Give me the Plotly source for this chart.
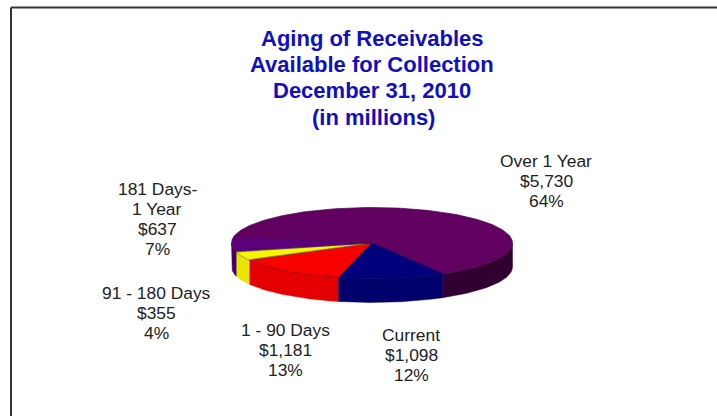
import numpy as np
import plotly.graph_objects as go

# Data, in drawing order going clockwise from the Current / 1-90 Days boundary
categories = ["1 - 90 Days", "91 - 180 Days", "181 Days - 1 Year", "Over 1 Year", "Current"]
amounts = [1181, 355, 637, 5730, 1098]
top_colors = ["#f80000", "#f6f600", "#5c007c", "#620062", "#00007c"]
side_colors = ["#e40000", "#e6e600", "#45005c", "#310031", "#00006c"]
edge_colors = ["#8a0000", "#77770a", "#4a0064", "#4e004e", "#000058"]

title_lines = ["Aging of Receivables", "Available for Collection", "December 31, 2010", "(in millions)"]
title_x = [372, 372, 372, 373]
title_y = [38, 64, 90, 117]

label_lines = [
    ["1 - 90 Days", "$1,181", "13%"],
    ["91 - 180 Days", "$355", "4%"],
    ["181 Days-", "1 Year", "$637", "7%"],
    ["Over 1 Year", "$5,730", "64%"],
    ["Current", "$1,098", "12%"],
]
label_x = [285, 156, 157, 546, 411]
label_y = [330, 293, 189, 161, 335]
label_step = 20

W, H = 717, 416
CX, CY, RX, RY, DEPTH = 372, 243, 140.5, 35.5, 24
START_DEG = 13.7

def ellipse(theta_deg, drop=0.0):
    t = np.radians(theta_deg)
    return CX - RX * np.sin(t), CY + RY * np.cos(t) + drop

fig = go.Figure()
total = sum(amounts)
spans = []
a = START_DEG
for v in amounts:
    b = a + 360.0 * v / total
    spans.append((a, b))
    a = b

# Outer wall: only the part on the front half of the ellipse
for (a, b), name, col in zip(spans, categories, side_colors):
    th = np.linspace(a, b, 200)
    th = th[np.cos(np.radians(th)) >= -1e-9]
    if len(th) < 2:
        continue
    x1, y1 = ellipse(th)
    x2, y2 = ellipse(th[::-1], DEPTH)
    fig.add_trace(go.Scatter(x=np.r_[x1, x2, x1[0]], y=np.r_[y1, y2, y1[0]], mode="lines",
                             fill="toself", fillcolor=col, line=dict(color=col, width=0.5),
                             name=name, hoverinfo="skip", showlegend=False))

# Top faces
for (a, b), name, v, col, edge in zip(spans, categories, amounts, top_colors, edge_colors):
    th = np.linspace(a, b, 200)
    x, y = ellipse(th)
    fig.add_trace(go.Scatter(x=np.r_[CX, x, CX], y=np.r_[CY, y, CY], mode="lines",
                             fill="toself", fillcolor=col, line=dict(color=edge, width=0.7),
                             name=name, text=f"{name}: ${v:,}", hoverinfo="text", showlegend=False))

ann = []
for t, x, y in zip(title_lines, title_x, title_y):
    ann.append(dict(x=x, y=y, text="<b>" + t + "</b>", showarrow=False, xanchor="center", yanchor="middle",
                    font=dict(family="Liberation Sans", size=22, color="#1010c0"),
                    xref="x", yref="y"))
for lines, x, y0 in zip(label_lines, label_x, label_y):
    for i, t in enumerate(lines):
        ann.append(dict(x=x, y=y0 + i * label_step, text=t, showarrow=False,
                        xanchor="center", yanchor="middle",
                        font=dict(family="Liberation Sans", size=17.4, color="#222222"),
                        xref="x", yref="y"))

fig.update_layout(
    width=W, height=H, margin=dict(l=0, r=0, t=0, b=0),
    paper_bgcolor="white", plot_bgcolor="white", showlegend=False,
    xaxis=dict(range=[0, W], visible=False, fixedrange=True),
    yaxis=dict(range=[H, 0], visible=False, fixedrange=True),
    annotations=ann,
    shapes=[
        dict(type="line", x0=11, x1=W, y0=7.5, y1=7.5, xref="x", yref="y",
             line=dict(color="#333333", width=2)),
        dict(type="line", x0=11, x1=11, y0=7.5, y1=H, xref="x", yref="y",
             line=dict(color="#333333", width=2)),
    ],
)
fig.write_html("out.html", config={"displayModeBar": False},
               post_script="document.body.style.margin='0';document.body.style.overflow='hidden';")
